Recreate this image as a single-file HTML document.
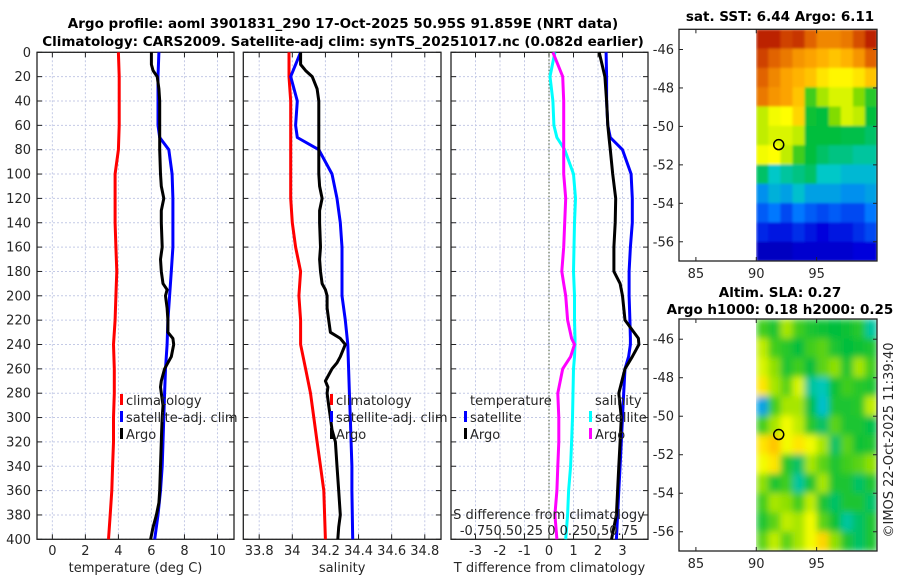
<!DOCTYPE html>
<html><head><meta charset="utf-8">
<style>
html,body{margin:0;padding:0;background:#fff;}
svg{display:block;font-family:"DejaVu Sans","Liberation Sans",sans-serif;}
.t{font-size:13px;fill:#262626;}
.b{font-size:13.5px;font-weight:bold;fill:#000;}
</style></head><body>
<svg id="c" width="900" height="580" viewBox="0 0 900 580">
<defs>
<filter id="blur" x="0" y="0" width="1" height="1"><feGaussianBlur stdDeviation="3.5" edgeMode="duplicate"/></filter>
<filter id="blur2" x="0" y="0" width="1" height="1"><feGaussianBlur stdDeviation="1.2" edgeMode="duplicate"/></filter>
</defs>
<text class="b" x="343" y="28" text-anchor="middle">Argo profile: aoml 3901831_290 17-Oct-2025 50.95S 91.859E (NRT data)</text>
<text class="b" x="343" y="46" text-anchor="middle">Climatology: CARS2009. Satellite-adj clim: synTS_20251017.nc (0.082d earlier)</text>
<text class="b" x="780" y="21" text-anchor="middle">sat. SST: 6.44 Argo: 6.11</text>
<text class="b" x="780" y="297" text-anchor="middle">Altim. SLA: 0.27</text>
<text class="b" x="780" y="314" text-anchor="middle">Argo h1000: 0.18 h2000: 0.25</text>
<text class="t" transform="translate(893,440) rotate(-90)" text-anchor="middle">©IMOS 22-Oct-2025 11:39:40</text>
</svg>
<script>
// ---------- data ----------
const depthTicks=[0,20,40,60,80,100,120,140,160,180,200,220,240,260,280,300,320,340,360,380,400];
const tDepth=[0,20,40,60,80,100,120,140,160,180,200,220,240,260,280,300,320,340,360,380,400];
const tClim=[4.0,4.05,4.05,4.05,4.0,3.8,3.8,3.8,3.85,3.9,3.85,3.8,3.7,3.75,3.75,3.7,3.7,3.65,3.6,3.5,3.4];
const satDepth=[0,20,40,60,70,80,100,120,140,160,180,200,220,240,260,280,300,320,340,360,380,400];
const tSat=[6.45,6.4,6.4,6.4,6.5,7.05,7.25,7.3,7.3,7.3,7.2,7.1,7.0,6.95,6.85,6.8,6.75,6.7,6.65,6.55,6.4,6.2];
const argoDepth=[0,10,15,20,30,40,60,80,100,110,120,130,140,160,170,180,190,195,200,210,220,230,235,240,250,255,260,270,275,280,290,300,310,320,340,360,370,380,390,400];
const tArgo=[6.0,6.0,6.1,6.35,6.45,6.5,6.5,6.5,6.55,6.6,6.75,6.6,6.6,6.65,6.55,6.6,6.7,6.95,6.85,6.95,7.0,7.0,7.3,7.35,7.2,7.0,6.8,6.6,6.55,6.6,6.7,6.65,6.62,6.6,6.55,6.5,6.45,6.3,6.1,5.95];
const sClim=[33.98,33.98,33.99,33.99,33.99,33.99,33.99,34.0,34.02,34.05,34.04,34.05,34.05,34.08,34.11,34.13,34.15,34.17,34.19,34.195,34.2];
const sSat=[34.05,33.99,34.03,34.02,34.03,34.16,34.24,34.27,34.29,34.3,34.3,34.3,34.32,34.335,34.34,34.345,34.35,34.355,34.36,34.36,34.362,34.365];
const sArgo=[34.05,34.05,34.08,34.12,34.15,34.16,34.16,34.16,34.16,34.165,34.18,34.165,34.165,34.17,34.165,34.17,34.18,34.2,34.21,34.21,34.22,34.23,34.29,34.32,34.29,34.27,34.24,34.2,34.215,34.21,34.22,34.23,34.24,34.26,34.27,34.28,34.285,34.29,34.28,34.275];
const dDepth=[0,20,40,60,70,80,100,120,140,160,180,190,200,220,235,240,250,260,280,300,320,340,360,380,400];
const dTSat=[2.33,2.35,2.35,2.4,2.5,3.0,3.35,3.4,3.4,3.32,3.27,3.27,3.27,3.3,3.32,3.32,3.25,3.1,3.05,3.0,2.95,2.9,2.85,2.8,2.75];
const dTArgo=[2.05,2.28,2.35,2.4,2.45,2.5,2.6,2.72,2.7,2.65,2.65,2.9,3.0,3.1,3.65,3.67,3.4,3.1,2.85,2.95,2.9,2.85,2.8,2.75,2.55];
const dSSat=[0.06,0.01,0.04,0.05,0.08,0.16,0.25,0.27,0.26,0.255,0.25,0.255,0.26,0.26,0.265,0.265,0.26,0.25,0.245,0.24,0.23,0.22,0.2,0.19,0.17];
const dSArgo=[0.04,0.14,0.15,0.15,0.15,0.15,0.15,0.17,0.16,0.15,0.13,0.15,0.17,0.19,0.23,0.26,0.22,0.14,0.09,0.1,0.1,0.09,0.08,0.06,0.08];
const tXTicks=[0,2,4,6,8,10];
const sXTicks=[33.8,34,34.2,34.4,34.6,34.8];
const dXTicks=[-3,-2,-1,0,1,2,3];
const sDiffLabel="-0.750.50.25 0 0.250.50.75";
const mapLonTicks=[85,90,95];
const mapLatTicks=[-46,-48,-50,-52,-54,-56];
const sstGrid=[
[0.95,0.95,0.9,0.92,0.85,0.8,0.8,0.82,0.88,0.95],
[0.9,0.85,0.82,0.78,0.76,0.74,0.72,0.74,0.78,0.85],
[0.85,0.8,0.76,0.74,0.72,0.68,0.66,0.66,0.68,0.72],
[0.82,0.78,0.76,0.72,0.5,0.58,0.62,0.62,0.55,0.48],
[0.6,0.64,0.65,0.7,0.46,0.45,0.55,0.62,0.6,0.45],
[0.6,0.62,0.62,0.6,0.45,0.45,0.45,0.44,0.44,0.42],
[0.64,0.65,0.6,0.5,0.45,0.42,0.4,0.4,0.38,0.38],
[0.42,0.35,0.38,0.4,0.42,0.35,0.35,0.33,0.33,0.33],
[0.28,0.32,0.3,0.34,0.3,0.3,0.3,0.28,0.28,0.3],
[0.22,0.25,0.2,0.25,0.22,0.2,0.22,0.2,0.2,0.25],
[0.16,0.14,0.14,0.17,0.14,0.12,0.14,0.14,0.17,0.2],
[0.08,0.08,0.08,0.1,0.1,0.1,0.1,0.1,0.12,0.12]];
const slaGrid=[
[0.5,0.47,0.58,0.5,0.47,0.46,0.45,0.46,0.48,0.38],
[0.6,0.5,0.48,0.45,0.5,0.52,0.47,0.45,0.46,0.47],
[0.62,0.56,0.47,0.5,0.45,0.52,0.56,0.47,0.58,0.5],
[0.68,0.58,0.52,0.62,0.38,0.36,0.46,0.5,0.48,0.47],
[0.3,0.5,0.58,0.58,0.44,0.34,0.47,0.47,0.48,0.6],
[0.5,0.58,0.64,0.6,0.48,0.42,0.52,0.47,0.47,0.44],
[0.68,0.72,0.64,0.68,0.64,0.58,0.42,0.52,0.46,0.47],
[0.64,0.68,0.48,0.42,0.58,0.52,0.47,0.5,0.52,0.56],
[0.56,0.47,0.5,0.38,0.47,0.58,0.47,0.47,0.42,0.47],
[0.5,0.58,0.56,0.5,0.6,0.47,0.42,0.47,0.47,0.42],
[0.47,0.52,0.6,0.58,0.64,0.52,0.46,0.38,0.42,0.47],
[0.52,0.6,0.52,0.58,0.64,0.7,0.56,0.47,0.42,0.47]];
const argoLon=[91.86];
const argoLat=[-50.95];

// ---------- drawing ----------
const svg=document.getElementById('c');
const NS='http://www.w3.org/2000/svg';
function mk(tag,attrs,parent){const e=document.createElementNS(NS,tag);for(const k in attrs)e.setAttribute(k,attrs[k]);(parent||svg).appendChild(e);return e;}
const Y0=52.3,Y1=539.3;
const yD=d=>Y0+(d/400)*(Y1-Y0);
function panel(name,x0,x1,xmin,xmax,ticks,fmt,xlabel){
  const sx=v=>x0+(v-xmin)/(xmax-xmin)*(x1-x0);
  const g=mk('g',{});
  
  
  depthTicks.forEach(d=>{const l=mk('line',{x1:x0,x2:x1,y1:yD(d),y2:yD(d),stroke:'#c4cae6','stroke-width':1,'stroke-dasharray':'2,2'},g);
    mk('line',{x1:x0,x2:x0+5,y1:yD(d),y2:yD(d),stroke:'#222'},g);mk('line',{x1:x1-5,x2:x1,y1:yD(d),y2:yD(d),stroke:'#222'},g);});
  ticks.forEach(v=>{const l=mk('line',{x1:sx(v),x2:sx(v),y1:Y0,y2:Y1,stroke:'#c4cae6','stroke-width':1,'stroke-dasharray':'2,2'},g);
    mk('line',{x1:sx(v),x2:sx(v),y1:Y1-5,y2:Y1,stroke:'#222'},g);mk('line',{x1:sx(v),x2:sx(v),y1:Y0,y2:Y0+5,stroke:'#222'},g);
    const t=mk('text',{x:sx(v),y:555,'text-anchor':'middle',class:'t'},g);t.textContent=fmt(v);});
  const r=mk('rect',{x:x0,y:Y0,width:x1-x0,height:Y1-Y0,fill:'none',stroke:'#222','stroke-width':1.3},g);
  
  const xl=mk('text',{x:(x0+x1)/2,y:572,'text-anchor':'middle',class:'t'},g);xl.textContent=xlabel;
  
  return sx;
}
function line(sx,xs,ds,color,name){
  const p=xs.map((v,i)=>sx(v).toFixed(1)+','+yD(ds[i]).toFixed(1)).join(' ');
  const e=mk('polyline',{points:p,fill:'none',stroke:color,'stroke-width':3,'stroke-linejoin':'round'});
  
  
}
function legend(x,y,items){
  items.forEach((it,i)=>{
    mk('rect',{x:x,y:y+i*17-11,width:3,height:11,fill:it[1]});
    const t=mk('text',{x:x+6,y:y+i*17,class:'t'});t.textContent=it[0];
    
    
  });
}
depthTicks.forEach(d=>{const t=mk('text',{x:31,y:yD(d)+4.5,'text-anchor':'end',class:'t'});t.textContent=d;
  
  });

const sxT=panel('temperature-panel',37,234,-0.93,11.0,tXTicks,v=>v,'temperature (deg C)');
line(sxT,tClim,tDepth,'#ff0000','temp-climatology-line');
line(sxT,tSat,satDepth,'#0000ff','temp-satellite-line');
line(sxT,tArgo,argoDepth,'#000000','temp-argo-line');
legend(120,405,[['climatology','#ff0000'],['satellite-adj. clim','#0000ff'],['Argo','#000000']]);

const sxS=panel('salinity-panel',243.3,441,33.704,34.898,sXTicks,v=>v,'salinity');
line(sxS,sClim,tDepth,'#ff0000','sal-climatology-line');
line(sxS,sSat,satDepth,'#0000ff','sal-satellite-line');
line(sxS,sArgo,argoDepth,'#000000','sal-argo-line');
legend(330,405,[['climatology','#ff0000'],['satellite-adj. clim','#0000ff'],['Argo','#000000']]);

const sxD=panel('difference-panel',451,648,-4.0,4.04,dXTicks,v=>v,'T difference from climatology');
mk('line',{x1:sxD(0),x2:sxD(0),y1:Y0,y2:Y1,stroke:'#445533','stroke-width':1,'stroke-dasharray':'1.5,2'});
const sxDS=v=>sxD(v*4);
line(sxDS,dSSat,dDepth,'#00ffff','sdiff-satellite-line');
line(sxDS,dSArgo,dDepth,'#ff00ff','sdiff-argo-line');
line(sxD,dTSat,dDepth,'#0000ff','tdiff-satellite-line');
line(sxD,dTArgo,dDepth,'#000000','tdiff-argo-line');
{const t=mk('text',{x:470,y:405,class:'t'});t.textContent='temperature';}
{const t=mk('text',{x:595,y:405,class:'t'});t.textContent='salinity';}
legend(464,422,[['satellite','#0000ff'],['Argo','#000000']]);
legend(589,422,[['satellite','#00ffff'],['Argo','#ff00ff']]);
{const t=mk('text',{x:549,y:519,'text-anchor':'middle',class:'t'});t.textContent='S difference from climatology';}
{const t=mk('text',{x:549,y:535,'text-anchor':'middle',class:'t'});t.textContent=sDiffLabel;}

// colormap
const cmStops=[[0,0,0,140],[0.12,0,0,220],[0.25,0,120,255],[0.35,0,200,200],[0.45,0,190,60],[0.55,130,220,0],[0.65,255,255,0],[0.75,255,170,0],[0.85,225,100,0],[1,170,0,0]];
function cmap(v){
  for(let i=1;i<cmStops.length;i++){if(v<=cmStops[i][0]){const a=cmStops[i-1],b=cmStops[i];const f=(v-a[0])/(b[0]-a[0]);
    return `rgb(${Math.round(a[1]+f*(b[1]-a[1]))},${Math.round(a[2]+f*(b[2]-a[2]))},${Math.round(a[3]+f*(b[3]-a[3]))})`;}}
  return 'rgb(170,0,0)';
}
function map(name,y0,y1,grid,filt){
  const x0=679,x1=877,lonMin=83.6,lonMax=100,latTop=-44.95,latBot=-57;
  const sx=l=>x0+(l-lonMin)/(lonMax-lonMin)*(x1-x0);
  const sy=l=>y0+(latTop-l)/(latTop-latBot)*(y1-y0);
  const g=mk('g',{});
  const cells=mk('g',{filter:'url(#'+filt+')'},g);
  
  
  grid.forEach((row,i)=>row.forEach((v,j)=>{
    const lat=latTop-i*((latTop-latBot)/grid.length);
    const lat2=latTop-(i+1)*((latTop-latBot)/grid.length);
    const r=mk('rect',{x:sx(90+j).toFixed(1),y:sy(lat).toFixed(1),width:(sx(91+j)-sx(90+j)+0.5).toFixed(1),height:(sy(lat2)-sy(lat)+0.5).toFixed(1),fill:cmap(v)},cells);
    
    
  }));
  const c=mk('circle',{cx:sx(argoLon[0]),cy:sy(argoLat[0]),r:5,fill:'none',stroke:'#000','stroke-width':1.5},g);
  
  mk('rect',{x:x0,y:y0,width:x1-x0,height:y1-y0,fill:'none',stroke:'#222','stroke-width':1.3},g);
  mapLatTicks.forEach(l=>{mk('line',{x1:x0,x2:x0+4,y1:sy(l),y2:sy(l),stroke:'#222'},g);mk('line',{x1:x1-4,x2:x1,y1:sy(l),y2:sy(l),stroke:'#222'},g);
    const t=mk('text',{x:x0-5,y:sy(l)+4.5,'text-anchor':'end',class:'t'},g);t.textContent=l;});
  mapLonTicks.forEach(l=>{mk('line',{x1:sx(l),x2:sx(l),y1:y1-4,y2:y1,stroke:'#222'},g);mk('line',{x1:sx(l),x2:sx(l),y1:y0,y2:y0+4,stroke:'#222'},g);
    const t=mk('text',{x:sx(l),y:y1+17,'text-anchor':'middle',class:'t'},g);t.textContent=l;});
}
map('sst-map',29.3,261,sstGrid,'blur2');
map('sla-map',319,551,slaGrid,'blur');
</script>
</body></html>
